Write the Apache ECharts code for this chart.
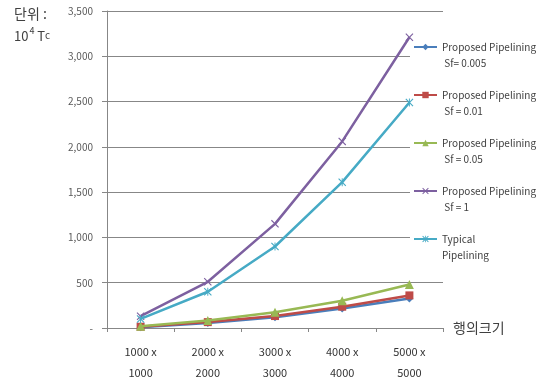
<!DOCTYPE html>
<html><head><meta charset="utf-8">
<script src="https://cdn.jsdelivr.net/npm/echarts@6/dist/echarts.min.js"></script>
<style>html,body{margin:0;padding:0;background:#fff}#c{width:558px;height:383px}</style>
</head><body><div id="c"></div>
<script>
const categories = ['1000 x\n1000', '2000 x\n2000', '3000 x\n3000', '4000 x\n4000', '5000 x\n5000'];
const seriesNames = ['Proposed Pipelining Sf= 0.005', 'Proposed Pipelining Sf = 0.01', 'Proposed Pipelining Sf = 0.05', 'Proposed Pipelining Sf = 1', 'Typical Pipelining'];
const legendLabels = ['\nProposed Pipelining\n Sf= 0.005', '\nProposed Pipelining\n Sf = 0.01', '\nProposed Pipelining\n Sf = 0.05', '\nProposed Pipelining\n Sf = 1', '\nTypical\nPipelining'];
const sf0005 = [8, 55, 118, 215, 325];
const sf001 = [14, 65, 132, 235, 360];
const sf005 = [20, 82, 175, 300, 480];
const sf1 = [130, 510, 1150, 2060, 3210];
const typical = [100, 400, 900, 1610, 2490];
const yTicks = {min: 0, max: 3500, interval: 500};

const colors = ['#4A7EBB', '#BE4B48', '#98B954', '#7D60A0', '#46AAC5'];
const crossPath = 'path://M0,1L1,0L5,4L9,0L10,1L6,5L10,9L9,10L5,6L1,10L0,9L4,5Z';
const starPath = 'path://M0,1L1,0L5,4L9,0L10,1L6,5L10,9L9,10L5,6L1,10L0,9L4,5Z M4.4,0L5.6,0L5.6,10L4.4,10Z';
const symbols = ['diamond', 'rect', 'triangle', crossPath, starPath];
const sizes = [8, 8, 9, 8, 8];
const dataArr = [sf0005, sf001, sf005, sf1, typical];
const font = '"Noto Sans CJK KR", "Noto Sans", sans-serif';

const chart = echarts.init(document.getElementById('c'), null, {renderer: 'canvas'});
chart.setOption({
  animation: false,
  backgroundColor: '#fff',
  grid: {left: 107, right: 115, top: 11, bottom: 53, containLabel: false},
  xAxis: {
    type: 'category', data: categories, boundaryGap: true,
    axisLine: {lineStyle: {color: '#878787', width: 1}},
    axisTick: {show: true, length: 4, lineStyle: {color: '#878787'}},
    axisLabel: {color: '#333', fontSize: 11, fontFamily: font, lineHeight: 21, margin: 13, interval: 0},
    name: '행의크기', nameLocation: 'end', nameGap: 10,
    nameTextStyle: {color: '#404040', fontSize: 14, fontFamily: font, padding: [12, 0, 0, 0]}
  },
  yAxis: {
    type: 'value', min: yTicks.min, max: yTicks.max, interval: yTicks.interval,
    axisLine: {show: true, lineStyle: {color: '#878787', width: 1}},
    axisTick: {show: true, length: 5, lineStyle: {color: '#878787'}},
    splitLine: {lineStyle: {color: '#878787', width: 1}},
    axisLabel: {color: '#595959', fontSize: 10, fontFamily: font, margin: 14,
      formatter: v => v === 0 ? '-' : v.toLocaleString('en-US')}
  },
  legend: {
    orient: 'vertical', left: 410, top: 20,
    padding: [3, 20, 4, 3], itemGap: 0,
    itemWidth: 23, itemHeight: 8,
    backgroundColor: '#fff',
    data: seriesNames,
    formatter: name => legendLabels[seriesNames.indexOf(name)],
    textStyle: {color: '#404040', fontSize: 10, fontFamily: font, lineHeight: 16}
  },
  graphic: [
    {type: 'text', left: 14, top: 7, style: {text: '단위 :', fontSize: 14, fontFamily: font, fill: '#404040'}},
    {type: 'text', left: 14, top: 26, style: {
      text: '{n|10}{s|4}{n| T}{c|c}', fontFamily: font, fill: '#404040',
      rich: {n: {fontSize: 13, fontFamily: font, fill: '#404040', verticalAlign: 'bottom'},
             s: {fontSize: 9, fontFamily: font, fill: '#404040', padding: [0, 0, 8, 1]},
             c: {fontSize: 10, fontFamily: font, fill: '#404040', padding: [2, 0, 0, 0]}}}},
    {type: 'text', left: 546, top: 113, style: {text: 'ıg', fontSize: 8, fontFamily: font, fill: '#777'}},
    {type: 'text', left: 546, top: 148, style: {text: 'ıg', fontSize: 8, fontFamily: font, fill: '#777'}},
    {type: 'text', left: 546, top: 178, style: {text: 'ıg', fontSize: 8, fontFamily: font, fill: '#777'}},
    {type: 'text', left: 546, top: 208, style: {text: 'ıg', fontSize: 8, fontFamily: font, fill: '#777'}}
  ],
  series: seriesNames.map((n, i) => ({
    name: n, type: 'line', data: dataArr[i],
    symbol: symbols[i], symbolSize: sizes[i], showSymbol: true,
    lineStyle: {color: colors[i], width: 2.5},
    itemStyle: {color: colors[i]},
    z: 2 + i
  }))
});
</script></body></html>
